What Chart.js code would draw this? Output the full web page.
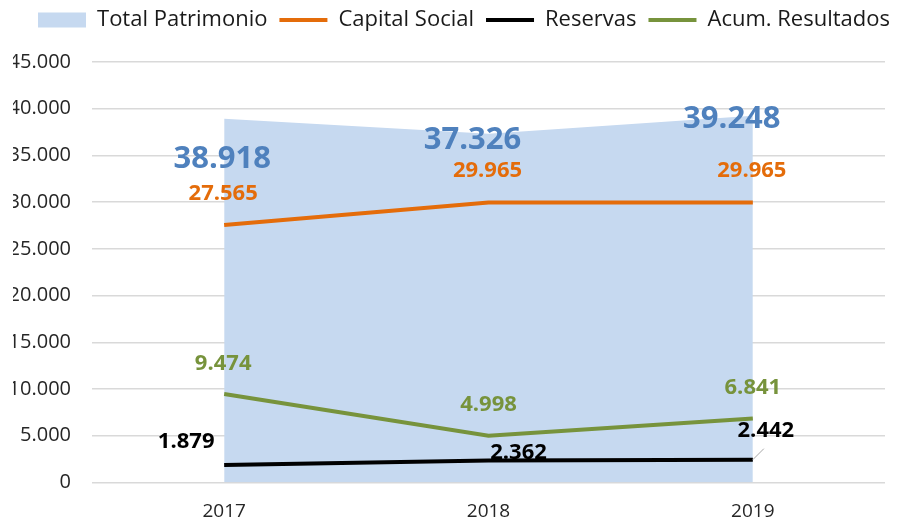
<!DOCTYPE html>
<html lang="es">
<head>
<meta charset="utf-8">
<title>Patrimonio</title>
<script src="https://cdn.jsdelivr.net/npm/chart.js@4/dist/chart.umd.min.js"></script>
<style>
    body { margin: 0; background: #fff; overflow: hidden; }
    #recorte { position: absolute; left: 13px; top: 0; width: 887px; height: 520px; overflow: hidden; }
    #grafico { position: absolute; left: -13px; top: 0; }
</style>
</head>
<body>
<div id="recorte">
    <canvas id="grafico" width="928" height="520"></canvas>
</div>
<script>
// Datos
const anios = ["2017", "2018", "2019"];
const totalPatrimonio = [38918, 37326, 39248];
const capitalSocial = [27565, 29965, 29965];
const reservas = [1879, 2362, 2442];
const acumResultados = [9474, 4998, 6841];
const ticksY = [0, 5000, 10000, 15000, 20000, 25000, 30000, 35000, 40000, 45000];

// Desplazamiento de cada etiqueta respecto a su punto (px)
const despTotal = [[-2, 40], [-16, 6], [-21, 3]];
const despCapital = [[-1, -31], [-1, -32], [-1, -32]];
const despReservas = [[-38, -23], [30, -8], [13, -29]];
const despAcum = [[-1, -30], [0, -31], [0, -31]];

document.addEventListener("DOMContentLoaded", () => {
    const ctx = document.getElementById('grafico').getContext('2d');
    const fuente = "'Open Sans', 'DejaVu Sans', sans-serif";
    const formato = v => v.toLocaleString('de-DE');

    // Dibuja los numeros sobre cada punto
    const etiquetas = {
        id: 'etiquetas',
        afterDatasetsDraw(chart) {
            const c = chart.ctx;
            chart.data.datasets.forEach((ds, i) => {
                const meta = chart.getDatasetMeta(i);
                meta.data.forEach((pt, j) => {
                    const [dx, dy] = ds.desp[j];
                    if (ds.guia && ds.guia[j]) {
                        c.save();
                        c.strokeStyle = '#A6A6A6';
                        c.lineWidth = 1;
                        c.beginPath();
                        c.moveTo(pt.x, pt.y);
                        c.lineTo(pt.x + 11, pt.y - 11);
                        c.stroke();
                        c.restore();
                    }
                    c.save();
                    c.font = `bold ${ds.tamEtiqueta}px ${fuente}`;
                    c.fillStyle = ds.colorEtiqueta;
                    c.textAlign = 'center';
                    c.textBaseline = 'middle';
                    c.fillText(formato(ds.data[j]), pt.x + dx, pt.y + dy);
                    c.restore();
                });
            });
        }
    };

    // Leyenda centrada en todo el lienzo y con mas aire debajo
    const ajusteLeyenda = {
        id: 'ajusteLeyenda',
        beforeInit(chart) {
            const leyenda = chart.legend;
            const fitOriginal = leyenda.fit;
            leyenda.fit = function () {
                this.maxWidth = chart.width;
                fitOriginal.call(this);
                this.height += 18;
            };
        },
        afterLayout(chart) {
            const l = chart.legend;
            l.left = 0;
            l.right = chart.width;
            l.width = chart.width;
            l.top -= 3;
            l.bottom -= 3;
        }
    };

    new Chart(ctx, {
        type: 'line',
        data: {
            labels: anios,
            datasets: [
                {
                    label: 'Total Patrimonio',
                    data: totalPatrimonio,
                    fill: 'origin',
                    backgroundColor: '#C6D9F0',
                    borderColor: '#C6D9F0',
                    borderWidth: 0,
                    pointRadius: 0,
                    pointStyle: 'rect',
                    tension: 0,
                    order: 5,
                    desp: despTotal,
                    tamEtiqueta: 31,
                    colorEtiqueta: '#4F81BD'
                },
                {
                    label: 'Capital Social',
                    data: capitalSocial,
                    borderColor: '#E46C0A',
                    backgroundColor: '#E46C0A',
                    borderWidth: 4,
                    pointRadius: 0,
                    pointStyle: 'line',
                    order: 3,
                    desp: despCapital,
                    tamEtiqueta: 22,
                    colorEtiqueta: '#E46C0A'
                },
                {
                    label: 'Reservas',
                    data: reservas,
                    borderColor: '#000000',
                    backgroundColor: '#000000',
                    borderWidth: 4,
                    pointRadius: 0,
                    pointStyle: 'line',
                    order: 1,
                    desp: despReservas,
                    guia: [false, false, true],
                    tamEtiqueta: 22,
                    colorEtiqueta: '#000000'
                },
                {
                    label: 'Acum. Resultados',
                    data: acumResultados,
                    borderColor: '#77933C',
                    backgroundColor: '#77933C',
                    borderWidth: 4,
                    pointRadius: 0,
                    pointStyle: 'line',
                    order: 2,
                    desp: despAcum,
                    tamEtiqueta: 22,
                    colorEtiqueta: '#77933C'
                }
            ]
        },
        options: {
            responsive: false,
            animation: false,
            layout: { padding: { left: 0, right: 43, top: 0, bottom: 0 } },
            plugins: {
                tooltip: { enabled: false },
                legend: {
                    position: 'top',
                    labels: {
                        usePointStyle: true,
                        pointStyleWidth: 48,
                        boxHeight: 15,
                        padding: 12,
                        color: '#1a1a1a',
                        font: { family: fuente, size: 22 },
                        sort: (a, b) => a.datasetIndex - b.datasetIndex
                    }
                }
            },
            scales: {
                x: {
                    offset: true,
                    grid: { display: false },
                    border: { display: false },
                    ticks: { color: '#262626', font: { family: fuente, size: 19 }, padding: 10 },
                    afterFit: s => { s.height = 37.5; }
                },
                y: {
                    min: ticksY[0],
                    max: ticksY[ticksY.length - 1],
                    afterBuildTicks: s => { s.ticks = ticksY.map(v => ({ value: v })); },
                    grid: { color: '#D9D9D9', lineWidth: 1.5, drawTicks: false },
                    border: { display: false },
                    ticks: {
                        color: '#262626',
                        font: { family: fuente, size: 20 },
                        padding: 21,
                        callback: v => formato(v)
                    },
                    afterFit: s => { s.width = 92; }
                }
            }
        },
        plugins: [etiquetas, ajusteLeyenda]
    });
});
</script>
</body>
</html>
